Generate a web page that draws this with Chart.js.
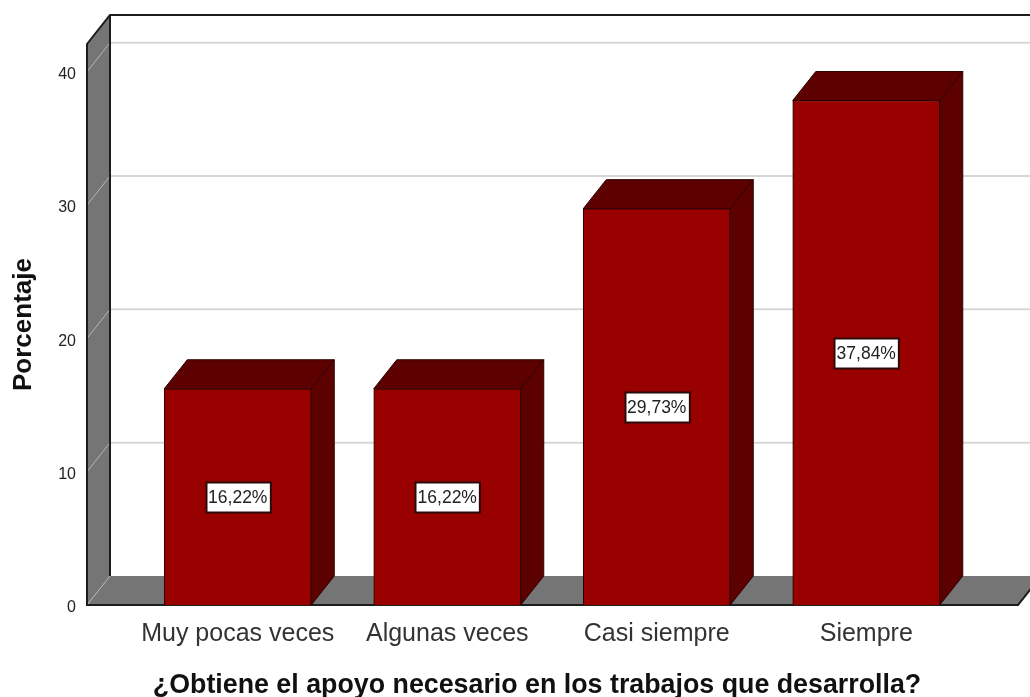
<!DOCTYPE html>
<html lang="es">
<head>
<meta charset="utf-8">
<title>Porcentaje</title>
<script src="https://cdn.jsdelivr.net/npm/chart.js@4"></script>
<style>
  html, body { margin: 0; background: #fff; }
  canvas { display: block; }
</style>
</head>
<body>
<canvas id="chart" width="1030" height="697"></canvas>
<script>
const categories = ["Muy pocas veces", "Algunas veces", "Casi siempre", "Siempre"];
const percentages = [16.22, 16.22, 29.73, 37.84];
const valueLabels = ["16,22%", "16,22%", "29,73%", "37,84%"];
const yTicks = [0, 10, 20, 30, 40];
const xTitle = "¿Obtiene el apoyo necesario en los trabajos que desarrolla?";
const yTitle = "Porcentaje";

// oblique offset of the fake 3D box
const depthX = 23;
const depthY = 29;
const FONT = '"Liberation Sans", Arial, sans-serif';

function poly(ctx, pts, fill, stroke, lw) {
  ctx.beginPath();
  pts.forEach((p, i) => i ? ctx.lineTo(p[0], p[1]) : ctx.moveTo(p[0], p[1]));
  ctx.closePath();
  if (fill) { ctx.fillStyle = fill; ctx.fill(); }
  if (stroke) { ctx.strokeStyle = stroke; ctx.lineWidth = lw || 1; ctx.stroke(); }
}

const box3d = {
  id: "box3d",
  beforeDatasetsDraw(chart) {
    const ctx = chart.ctx, y = chart.scales.y;
    const y0 = y.getPixelForValue(0), top = chart.chartArea.top;
    const left = 87, right = 1018;
    ctx.save();
    // back wall grid
    ctx.lineWidth = 2;
    yTicks.slice(1).forEach(t => {
      const py = y.getPixelForValue(t);
      ctx.strokeStyle = "#d6d6d6";
      ctx.beginPath();
      ctx.moveTo(left + depthX, py - depthY);
      ctx.lineTo(chart.width, py - depthY);
      ctx.stroke();
    });
    // left wall and floor
    poly(ctx, [[left, y0], [left, top], [left + depthX, top - depthY], [left + depthX, y0 - depthY]], "#757575");
    poly(ctx, [[left, y0], [right, y0], [right + depthX, y0 - depthY], [left + depthX, y0 - depthY]], "#757575");
    ctx.lineWidth = 1;
    ctx.strokeStyle = "#b5b5b5";
    yTicks.forEach(t => {
      const py = y.getPixelForValue(t);
      ctx.beginPath();
      ctx.moveTo(left, py);
      ctx.lineTo(left + depthX, py - depthY);
      ctx.stroke();
    });
    // outlines
    ctx.strokeStyle = "#1c1c1c";
    ctx.lineWidth = 2;
    ctx.beginPath();
    ctx.moveTo(right + depthX, y0 - depthY);
    ctx.lineTo(right, y0);
    ctx.lineTo(left, y0);
    ctx.lineTo(left, top);
    ctx.lineTo(left + depthX, top - depthY);
    ctx.lineTo(chart.width, top - depthY);
    ctx.moveTo(left + depthX, top - depthY);
    ctx.lineTo(left + depthX, y0 - depthY);
    ctx.stroke();
    ctx.restore();
  },
  afterDatasetsDraw(chart) {
    const ctx = chart.ctx;
    ctx.save();
    chart.getDatasetMeta(0).data.forEach((bar, i) => {
      const l = bar.x - bar.width / 2, r = bar.x + bar.width / 2;
      const t = bar.y, b = bar.base;
      const edge = "#2e0000";
      poly(ctx, [[l, t], [r, t], [r + depthX, t - depthY], [l + depthX, t - depthY]], "#5c0000", edge, 1);
      poly(ctx, [[r, t], [r + depthX, t - depthY], [r + depthX, b - depthY], [r, b]], "#5c0000", edge, 1);
      // value label box
      const midY = Math.round((t + b) / 2) + 0.5;
      ctx.font = "17.5px " + FONT;
      const w = ctx.measureText(valueLabels[i]).width + 5;
      const x0 = Math.round(bar.x - w / 2) + 0.5;
      ctx.fillStyle = "#fff";
      ctx.strokeStyle = "#2a0a0a";
      ctx.lineWidth = 2;
      ctx.fillRect(x0, midY - 15, w, 30);
      ctx.strokeRect(x0, midY - 15, w, 30);
      ctx.fillStyle = "#222";
      ctx.textAlign = "center";
      ctx.textBaseline = "middle";
      ctx.fillText(valueLabels[i], bar.x, midY + 1);
    });
    // x title sits left of the plot centre in the original
    ctx.font = "bold 26.8px " + FONT;
    ctx.fillStyle = "#111";
    ctx.textAlign = "center";
    ctx.textBaseline = "middle";
    ctx.fillText(xTitle, 537, 686);
    ctx.restore();
  }
};

new Chart(document.getElementById("chart"), {
  type: "bar",
  data: {
    labels: categories,
    datasets: [{
      data: percentages,
      backgroundColor: "#990000",
      borderColor: "#2e0000",
      borderWidth: 1,
      barThickness: 147
    }]
  },
  options: {
    responsive: false,
    animation: false,
    layout: { padding: { left: 0, right: 59, top: 44, bottom: 0 } },
    plugins: { legend: { display: false }, tooltip: { enabled: false } },
    scales: {
      x: {
        afterFit: s => { s.height = 92; },
        grid: { display: false, drawTicks: false },
        border: { display: false },
        ticks: {
          padding: 14,
          color: "#333",
          maxRotation: 0,
          autoSkip: false,
          font: { family: FONT, size: 25 }
        }
      },
      y: {
        min: 0,
        max: 42.08,
        // the big tick padding would otherwise also push the plot top down
        afterFit: s => { s.width = 133; s.paddingTop = 0; s.paddingBottom = 0; },
        afterBuildTicks: s => { s.ticks = yTicks.map(v => ({ value: v })); },
        grid: { display: false, drawTicks: false },
        border: { display: false },
        title: {
          display: true,
          text: yTitle,
          color: "#111",
          padding: { top: 8, bottom: 0 },
          font: { family: FONT, size: 26, weight: "bold" }
        },
        ticks: {
          padding: 57,
          labelOffset: 3,
          color: "#222",
          font: { family: FONT, size: 16 }
        }
      }
    }
  },
  plugins: [box3d]
});
</script>
</body>
</html>
